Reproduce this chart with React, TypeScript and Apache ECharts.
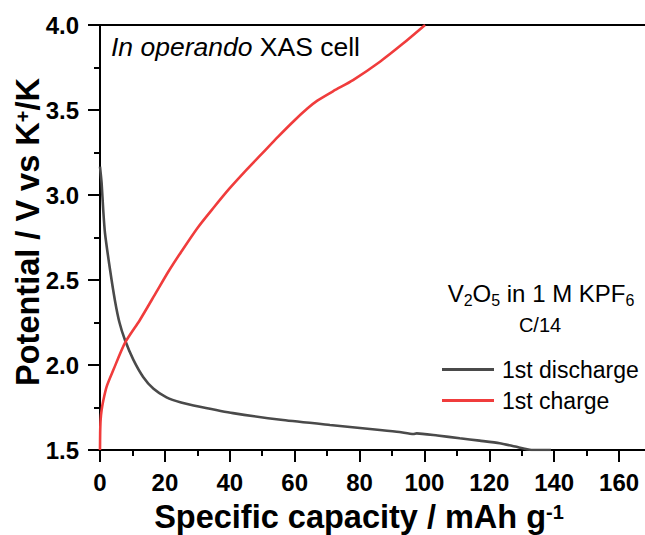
import React, { useEffect, useRef } from "react";
import * as echarts from "echarts";

const dischargeCap = [0, 0.5, 1.0, 1.54, 3.1, 4.6, 6.0, 7.7, 10.3, 13.3, 16.5, 20.5, 25, 30.8, 41, 56.4, 70.9, 86.3, 92.3, 96.6, 97.6, 104, 110.9, 117, 123.2, 128, 133, 139];
const dischargeV = [3.167, 3.07, 2.91, 2.775, 2.56, 2.38, 2.25, 2.147, 2.03, 1.93, 1.86, 1.81, 1.78, 1.755, 1.717, 1.676, 1.647, 1.618, 1.606, 1.594, 1.598, 1.585, 1.569, 1.555, 1.54, 1.52, 1.5, 1.5];

const chargeCap = [0, 0.05, 0.2, 0.5, 1.0, 2.05, 4.1, 7.7, 12.3, 17.4, 21.1, 25, 30, 35, 40, 45, 50, 55, 60, 64, 67, 72, 78, 86.3, 93.5, 100.2];
const chargeV = [1.5, 1.6, 1.68, 1.735, 1.79, 1.873, 1.97, 2.13, 2.265, 2.43, 2.55, 2.665, 2.805, 2.925, 3.04, 3.145, 3.245, 3.345, 3.44, 3.51, 3.555, 3.612, 3.676, 3.784, 3.892, 4.0];

const seriesNames = ["1st discharge", "1st charge"];
const seriesColors = ["#4a4a4a", "#f03c3c"];

const xTitle = "{b|Specific capacity / mAh g}{sup|-1}";
const yTitle = "{b|Potential / V vs K}{sup|+}{b|/K}";
const cellNote = "{i|In operando}{n| XAS cell}";
const sampleNote = "{n|V}{s|2}{n|O}{s|5}{n| in 1 M KPF}{s|6}";
const rateNote = "C/14";

const FONT = "'Liberation Sans', Arial, Helvetica, sans-serif";

function zipPairs(xs: number[], ys: number[]) {
  return xs.map((x, i) => [x, ys[i]]);
}

export default function App() {
  const ref = useRef<HTMLDivElement>(null);
  useEffect(() => {
    if (!ref.current) return;
    const chart = echarts.init(ref.current, null, { renderer: "svg" });
    const axisLine = { show: true, lineStyle: { color: "#000", width: 2 } };
    const titleRich = {
      b: { fontFamily: FONT, fontSize: 32.5, fontWeight: "bold", lineHeight: 30, fill: "#000" },
      sup: { fontFamily: FONT, fontSize: 20, fontWeight: "bold", lineHeight: 18, verticalAlign: "top", fill: "#000" },
    };
    chart.setOption({
      animation: false,
      backgroundColor: "#fff",
      textStyle: { fontFamily: FONT },
      grid: { left: 100, top: 25, width: 551.5, height: 425, outerBoundsMode: "none", containLabel: false },
      legend: {
        orient: "vertical",
        left: 442,
        top: 358,
        padding: 0,
        itemWidth: 52,
        itemHeight: 3,
        itemGap: 8,
        icon: "rect",
        data: seriesNames,
        textStyle: { fontFamily: FONT, fontSize: 23, color: "#000", lineHeight: 21, padding: [0, 0, 0, 3] },
      },
      xAxis: [
        {
          type: "value",
          min: 0,
          max: 170,
          interval: 20,
          position: "bottom",
          axisLine,
          axisTick: { show: true, length: 12, inside: false, lineStyle: { color: "#000", width: 2 } },
          minorTick: { show: true, splitNumber: 2, length: 6, lineStyle: { color: "#000", width: 2 } },
          splitLine: { show: false },
          axisLabel: {
            margin: 20,
            fontFamily: FONT,
            fontSize: 24,
            fontWeight: "bold",
            color: "#000",
            showMaxLabel: false,
            formatter: (v: number) => (v % 20 === 0 ? String(v) : ""),
          },
        },
        {
          type: "value",
          min: 0,
          max: 170,
          position: "top",
          axisLine,
          axisTick: { show: false },
          axisLabel: { show: false },
          splitLine: { show: false },
        },
      ],
      yAxis: {
        type: "value",
        min: 1.5,
        max: 4.0,
        interval: 0.5,
        axisLine,
        axisTick: { show: true, length: 12, inside: false, lineStyle: { color: "#000", width: 2 } },
        minorTick: { show: true, splitNumber: 2, length: 6, lineStyle: { color: "#000", width: 2 } },
        splitLine: { show: false },
        axisLabel: {
          margin: 21,
          fontFamily: FONT,
          fontSize: 24,
          fontWeight: "bold",
          color: "#000",
          formatter: (v: number) => v.toFixed(1),
        },
      },
      series: [
        {
          name: seriesNames[0],
          type: "line",
          data: zipPairs(dischargeCap, dischargeV),
          showSymbol: false,
          symbol: "none",
          smooth: 0.2,
          color: seriesColors[0],
          lineStyle: { color: seriesColors[0], width: 2.6 },
          z: 3,
        },
        {
          name: seriesNames[1],
          type: "line",
          data: zipPairs(chargeCap, chargeV),
          showSymbol: false,
          symbol: "none",
          smooth: 0.25,
          color: seriesColors[1],
          lineStyle: { color: seriesColors[1], width: 2.6 },
          z: 4,
        },
      ],
      graphic: [
        {
          type: "text",
          x: 359,
          y: 517,
          style: { text: xTitle, align: "center", verticalAlign: "middle", fill: "#000", rich: titleRich },
        },
        {
          type: "text",
          x: 28,
          y: 232,
          rotation: Math.PI / 2,
          style: { text: yTitle, align: "center", verticalAlign: "middle", fill: "#000", rich: titleRich },
        },
        {
          type: "text",
          x: 111,
          y: 47,
          style: {
            text: cellNote,
            align: "left",
            verticalAlign: "middle",
            fill: "#000",
            rich: {
              i: { fontFamily: FONT, fontSize: 26.5, fontStyle: "italic", fill: "#000" },
              n: { fontFamily: FONT, fontSize: 26.5, fill: "#000" },
            },
          },
        },
        {
          type: "text",
          x: 541,
          y: 293,
          style: {
            text: sampleNote,
            align: "center",
            verticalAlign: "middle",
            fill: "#000",
            rich: {
              n: { fontFamily: FONT, fontSize: 24, lineHeight: 30, fill: "#000" },
              s: { fontFamily: FONT, fontSize: 16, lineHeight: 16, verticalAlign: "bottom", fill: "#000" },
            },
          },
        },
        {
          type: "text",
          x: 540,
          y: 325,
          style: {
            text: rateNote,
            align: "center",
            verticalAlign: "middle",
            fontFamily: FONT,
            fontSize: 20,
            fill: "#000",
          },
        },
      ],
    });
    return () => chart.dispose();
  }, []);
  return (
    <div
      ref={ref}
      style={{ position: "absolute", left: 0, top: 0, width: 645, height: 535, background: "#fff" }}
    />
  );
}
